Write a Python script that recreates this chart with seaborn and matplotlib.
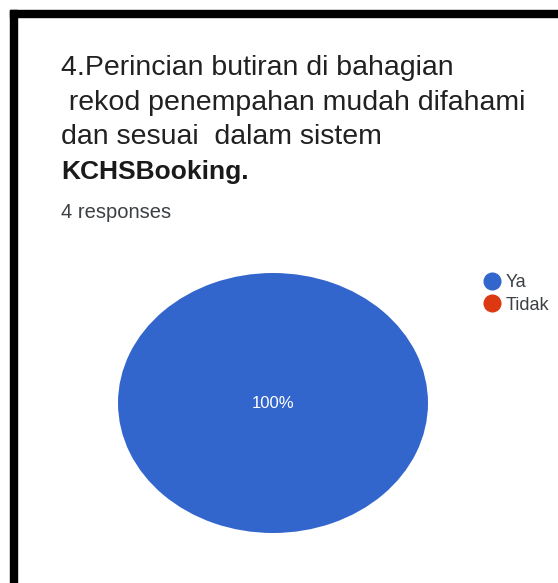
import matplotlib
matplotlib.use("Agg")
import matplotlib.pyplot as plt
from matplotlib.patches import Rectangle
from matplotlib.lines import Line2D
import seaborn as sns

categories = ["Ya", "Tidak"]
values = [4, 0]
colors = ["#3366cc", "#dc3912"]
title_lines = ["4.Perincian butiran di bahagian",
               " rekod penempahan mudah difahami",
               "dan sesuai  dalam sistem"]
title_bold = "KCHSBooking."
subtitle = "4 responses"

sns.set_theme(style="white")
plt.rcParams['font.family'] = ['Liberation Sans', 'DejaVu Sans']

W, H = 558, 583
fig = plt.figure(figsize=(W / 100, H / 100), dpi=100)
fig.patch.set_facecolor("white")

def fx(x): return x / W
def fy(y): return 1 - y / H

# black frame (top and left)
fig.patches.append(Rectangle((fx(10), fy(17)), fx(548), 7 / H, transform=fig.transFigure,
                             color="black", zorder=0))
fig.patches.append(Rectangle((fx(10), 0), 7 / W, fy(10), transform=fig.transFigure,
                             color="black", zorder=0))

# title
ys = [68, 103, 137]
for t, y in zip(title_lines, ys):
    fig.text(fx(61), fy(y), t, fontsize=20.5, color="#212121", va="center", ha="left")
fig.text(fx(61), fy(172), title_bold, fontsize=19, color="#1a1a1a", va="center", ha="left",
         fontweight="bold")
fig.text(fx(61), fy(212), subtitle, fontsize=14.5, color="#3c4043", va="center", ha="left")

# pie
ax = fig.add_axes([fx(118), fy(533), 310 / W, 260 / H])
total = sum(values)
wedges, _ = ax.pie(values, colors=colors, startangle=90, counterclock=False,
                   wedgeprops=dict(linewidth=0))
ax.set_aspect("auto")
ax.set_xlim(-1, 1)
ax.set_ylim(-1, 1)
ax.axis("off")
for v in values:
    if v / total >= 0.999:
        ax.text(0, 0.0, f"{v / total * 100:.0f}%", color="white", fontsize=12,
                ha="center", va="center")

handles = [Line2D([0], [0], marker="o", linestyle="", markersize=12,
                  markerfacecolor=c, markeredgecolor=c) for c in colors]
fig.legend(handles, categories, loc="upper left", bbox_to_anchor=(fx(472), fy(265)),
           frameon=False, fontsize=13, handletextpad=0.15, labelspacing=0.32,
           handlelength=1.2, borderpad=0, labelcolor="#3c4043")

fig.savefig("out.png", dpi=100)
